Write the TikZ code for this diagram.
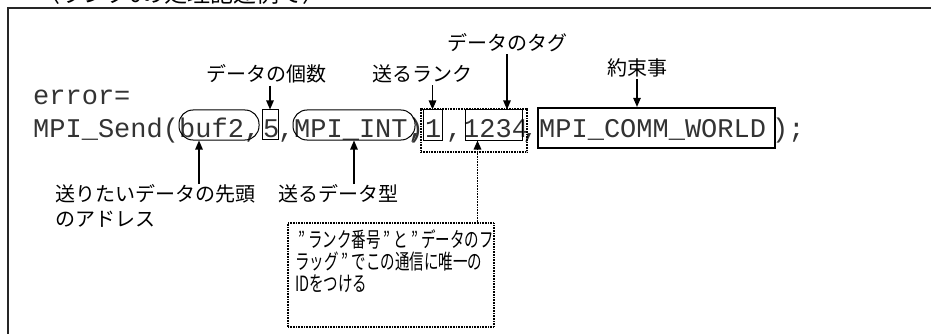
\documentclass[tikz,border=0pt]{standalone}
\usepackage{fontspec}
\usetikzlibrary{arrows.meta,fit}
\newfontfamily\jp{Noto Sans CJK JP}
\newfontfamily\codefont{Liberation Mono}
\newcommand\fq{\makebox[0.9em][c]{”}}
\begin{document}
\begin{tikzpicture}[x=1pt,y=-1pt,
  code/.style={font=\codefont\fontsize{27}{30}\selectfont, text=black!80, inner sep=0pt, anchor=base west},
  lab/.style={font=\jp\fontsize{20}{25}\selectfont, inner sep=2pt},
  arr/.style={line width=1.1pt, -{Triangle[length=9pt,width=7.5pt]}},
  ovalbox/.style={draw, line width=1pt, rounded corners=14pt, inner sep=0pt},
  thinbox/.style={draw, line width=1pt, inner sep=0pt},
  thickbox/.style={draw, line width=2.2pt, inner sep=0pt},
  dotbox/.style={draw, line width=1.6pt, dash pattern=on 0.8pt off 0.8pt, inner sep=0pt},
  frame/.style={line width=2.5pt, draw=black!85}]
\useasboundingbox (0,0) rectangle (931,334);
\clip (0,0) rectangle (931,334);
% outer frame and clipped title
\draw[frame] (8,360) -- (8,8) -- (960,8);
\node[inner sep=0pt, anchor=base west, font=\jp\fontsize{23}{26}\selectfont] (title) at (37,2.5) {〈ランク0の処理記述例で〉};
% code
\node[code] (err) at (33,105) {error=};
\node[code] (c0) at (33,137) {MPI\_Send(};
\node[code] (c1) at (179,137) {buf2,};
\node[code] (c2) at (263,137) {5};
\node[code] (c3) at (278,137) {,};
\node[code] (c4) at (294,137) {MPI\_INT)};
\node[code] (c5) at (408,137) {,};
\node[code] (c6) at (425,137) {1};
\node[code] (c7) at (446,137) {,};
\node[code] (c8) at (463,137) {1234};
\node[code] (c9) at (522,137) {,};
\node[code] (c10) at (539,137) {MPI\_COMM\_WORLD};
\node[code] (c11) at (772,137) {);};
% boxes
\node[ovalbox, fit={(179,110) (259,140)}] (obuf) {};
\node[thinbox, fit={(262,110) (278,139)}] (b5) {};
\node[ovalbox, fit={(293,110) (415,140)}] (oint) {};
\node[thinbox, fit={(423,110) (442,140)}] (b1) {};
\node[thinbox, fit={(465,110) (522,140)}] (b1234) {};
\node[dotbox, fit={(421,109) (527,152)}] (dots) {};
\node[thickbox, fit={(538,108) (775,148)}] (comm) {};
% labels
\node[lab] (cnt) at (266,74) {データの個数};
\node[lab] (rank) at (422,74) {送るランク};
\node[lab] (tag) at (507,43) {データのタグ};
\node[lab] (yaku) at (637,68) {約束事};
\node[lab, anchor=north west, align=left, inner sep=0pt, font=\jp\fontsize{20}{25.5}\selectfont] (addr) at (55,184) {送りたいデータの先頭\\のアドレス};
\node[lab, anchor=north west, inner sep=0pt] (dtype) at (278,184) {送るデータ型};
% ID box
\node[dotbox, fit={(288,223) (494,327)}] (idbox) {};
\node[anchor=north west, inner sep=0pt, align=left, xscale=0.69, transform shape,
  font=\jp\fontsize{21}{22}\selectfont] (idtext) at (295,229)
  {\fq ランク番号\fq と\fq データのフ\\ラッグ\fq でこの通信に唯一の\\IDをつける};
% arrows
\draw[arr] (cnt.south -| b5.north) -- (b5.north);
\draw[arr] (rank.south -| b1.north) -- (b1.north);
\draw[arr] (tag.south) -- (tag.south |- b1234.north);
\draw[arr] (yaku.south) -- (yaku.south |- comm.north);
\draw[arr] ([xshift=-20pt]obuf.south |- addr.north) -- ([xshift=-20pt]obuf.south);
\draw[arr] (oint.south |- dtype.north) -- (oint.south);
\draw[arr, dash pattern=on 0.8pt off 0.8pt, line width=1.6pt] ([xshift=-16pt]b1234.south |- idbox.north) -- ([xshift=-16pt]b1234.south);
\end{tikzpicture}
\end{document}
